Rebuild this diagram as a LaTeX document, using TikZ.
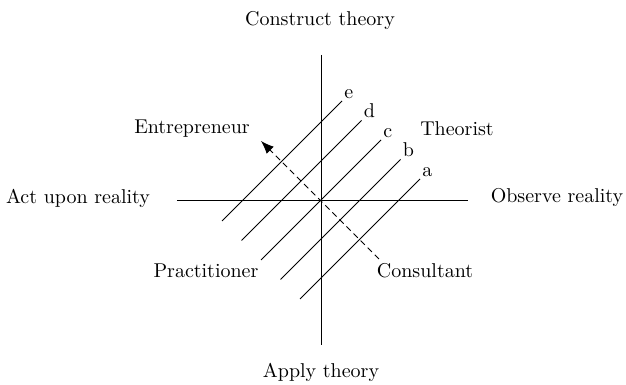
\documentclass[tikz,border=0pt]{standalone}
\usepackage{tikz}
\usetikzlibrary{calc, positioning, arrows.meta}

\begin{document}
\begin{tikzpicture}[>={Latex[length=6.5pt, width=5pt]}, x=0.5pt, y=0.5pt]
    \tikzset{
        axis/.style={line width=0.45pt},
        level/.style={line width=0.45pt},
        quadlabel/.style={font=\normalsize},
        levellabel/.style={font=\normalsize, inner sep=1pt}
    }
    \useasboundingbox (-321,-185) rectangle (305,200);

    % 1. Trục
    \coordinate (O) at (0,0);
    \coordinate (W) at (-144,0);
    \coordinate (E) at (147,0);
    \coordinate (N) at (0,145);
    \coordinate (S) at (0,-145);
    \draw[axis] (W) -- (E);
    \draw[axis] (N) -- (S);

    % 2. Nhãn các trục
    \node (construct) at (-1,179) {Construct theory};
    \node (apply) at (0,-172) {Apply theory};
    \node (act) at (-243,2) {Act upon reality};
    \node (observe) at (236,2) {Observe reality};

    % 3. Các đường song song a -- e
    \foreach \t/\lab in {39/a, 19.5/b, 0/c, -19.5/d, -39/e} {
        \coordinate (lo-\lab) at ({\t-60},{-\t-60});
        \coordinate (hi-\lab) at ({\t+60},{-\t+60});
        \draw[level] (lo-\lab) -- (hi-\lab)
            node[levellabel, above right] (lab-\lab) {\lab};
    }

    % 4. Mũi tên nét đứt
    \coordinate (tail) at (58,-59);
    \coordinate (tip) at (-60,59);
    \draw[->, line width=0.45pt, dash pattern=on 3pt off 2pt] (tail) -- (tip);

    % 5. Nhãn bốn góc
    \node[quadlabel] (entre) at (-129,71) {Entrepreneur};
    \node[quadlabel] (theorist) at (136,71) {Theorist};
    \node[quadlabel] (pract) at (-115,-71) {Practitioner};
    \node[quadlabel] (consult) at (104,-71) {Consultant};
\end{tikzpicture}
\end{document}
